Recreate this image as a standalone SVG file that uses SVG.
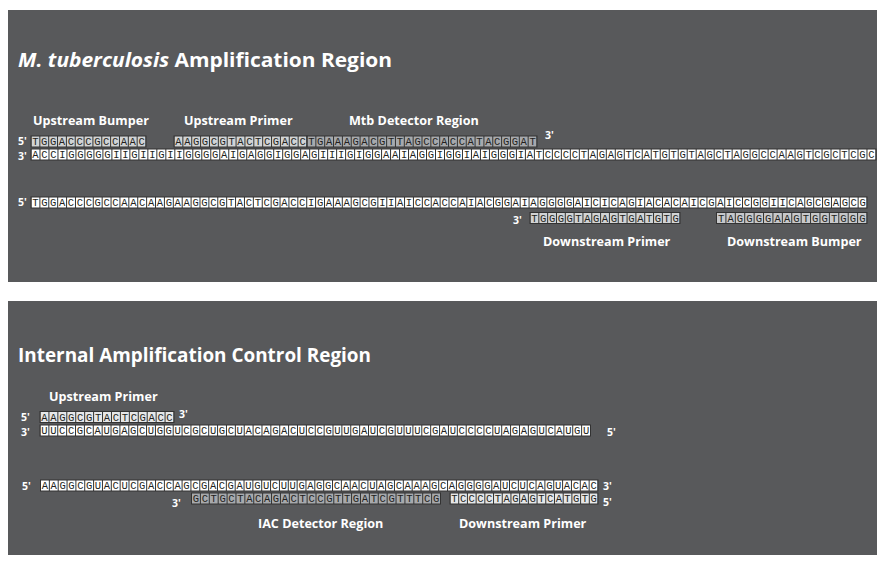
<svg xmlns="http://www.w3.org/2000/svg" width="885" height="567" viewBox="0 0 885 567">
<style>
.panel{fill:#58595b}
.t{font-family:"Open Sans","Liberation Sans",sans-serif;font-weight:700;fill:#ffffff}
.title{font-size:20px}
.lab{font-size:12.6px}
.end{font-size:10.5px}
.cell{stroke:#333333;stroke-width:1}
.dv{stroke:#333333;stroke-dashoffset:0.5;fill:none}
.seq{font-family:"Liberation Mono","DejaVu Sans Mono",monospace;font-size:10.5px;fill:#231f20}
.w{fill:#ffffff}
.lg{fill:#d1d3d4}
.lg2{fill:#c7c8ca}
.vl{fill:#e6e7e8}
.dk{fill:#a7a9ac}
</style>
<rect width="885" height="567" fill="#ffffff"/>

<g id="mtb-panel">
<rect class="panel" x="8" y="10" width="869" height="272"/>
<text class="t title" x="18" y="67" textLength="374" lengthAdjust="spacingAndGlyphs"><tspan font-style="italic">M. tuberculosis</tspan> Amplification Region</text>
<text class="t lab" x="33" y="125">Upstream Bumper</text>
<text class="t lab" x="184" y="125">Upstream Primer</text>
<text class="t lab" x="349" y="125">Mtb Detector Region</text>
<text class="t lab" x="543" y="246">Downstream Primer</text>
<text class="t lab" x="727" y="246">Downstream Bumper</text>

<g id="mtb-row1">
<text class="t end" x="18" y="145">5'</text>
<rect class="cell lg" x="31" y="136" width="115" height="11"/>
<line class="dv" x1="31" y1="141.5" x2="146" y2="141.5" stroke-width="11" stroke-dasharray="1 7.846"/>
<text class="seq" x="32.27" y="145" letter-spacing="2.545">TGGACCCGCCAAC</text>
<rect class="cell lg" x="174" y="136" width="133" height="11"/>
<line class="dv" x1="174" y1="141.5" x2="307" y2="141.5" stroke-width="11" stroke-dasharray="1 7.867"/>
<text class="seq" x="175.28" y="145" letter-spacing="2.566">AAGGCGTACTCGACC</text>
<rect class="cell dk" x="307" y="136" width="230" height="11"/>
<line class="dv" x1="307" y1="141.5" x2="537" y2="141.5" stroke-width="11" stroke-dasharray="1 7.846"/>
<text class="seq" x="308.27" y="145" letter-spacing="2.545">TGAAAGACGTTAGCCACCATACGGAT</text>
<text class="t end" x="545" y="139">3'</text>
</g>

<g id="mtb-row2">
<text class="t end" x="18" y="159.5">3'</text>
<rect class="cell w" x="31" y="149" width="845" height="11"/>
<line class="dv" x1="31" y1="154.5" x2="876" y2="154.5" stroke-width="11" stroke-dasharray="1 7.989"/>
<text class="seq" x="32.34" y="158" letter-spacing="2.688">ACCIGGGGGIIGIIGIIGGGGAIGAGGIGGAGIIIGIGGAAIAGGIGGIAIGGGIATCCCCTAGAGTCATGTGTAGCTAGGCCAAGTCGCTCGC</text>
</g>

<g id="mtb-row3">
<text class="t end" x="18" y="206">5'</text>
<rect class="cell w" x="31" y="197" width="836" height="11"/>
<line class="dv" x1="31" y1="202.5" x2="867" y2="202.5" stroke-width="11" stroke-dasharray="1 7.894"/>
<text class="seq" x="32.30" y="206" letter-spacing="2.593">TGGACCCGCCAACAAGAAGGCGTACTCGACCIGAAAGCGIIAICCACCAIACGGAIAGGGGAICICAGIACACAICGAICCGGIICAGCGAGCG</text>
</g>

<g id="mtb-row4">
<text class="t end" x="513" y="224">3'</text>
<rect class="cell lg" x="530" y="212.5" width="150" height="11"/>
<line class="dv" x1="530" y1="218" x2="680" y2="218" stroke-width="11" stroke-dasharray="1 7.824"/>
<text class="seq" x="531.26" y="221.5" letter-spacing="2.523">TGGGGTAGAGTGATGTG</text>
<rect class="cell lg2" x="716.5" y="212.5" width="150.5" height="11"/>
<line class="dv" x1="716.5" y1="218" x2="867" y2="218" stroke-width="11" stroke-dasharray="1 8.406"/>
<text class="seq" x="718.05" y="221.5" letter-spacing="3.105">TAGGGGAAGTGGTGGG</text>
</g>
</g>

<g id="iac-panel">
<rect class="panel" x="8" y="301" width="869" height="254"/>
<text class="t title" x="18" y="362" textLength="353" lengthAdjust="spacingAndGlyphs">Internal Amplification Control Region</text>
<text class="t lab" x="49" y="401">Upstream Primer</text>
<text class="t lab" x="258" y="528">IAC Detector Region</text>
<text class="t lab" x="459" y="528">Downstream Primer</text>

<g id="iac-row1">
<text class="t end" x="21" y="421">5'</text>
<rect class="cell vl" x="40" y="411.5" width="134" height="11"/>
<line class="dv" x1="40" y1="417" x2="174" y2="417" stroke-width="11" stroke-dasharray="1 7.933"/>
<text class="seq" x="41.32" y="420.5" letter-spacing="2.632">AAGGCGTACTCGACC</text>
<text class="t end" x="179" y="418">3'</text>
</g>

<g id="iac-row2">
<text class="t end" x="21" y="435.5">3'</text>
<rect class="cell w" x="40" y="425" width="550.5" height="11"/>
<line class="dv" x1="40" y1="430.5" x2="590.5" y2="430.5" stroke-width="11" stroke-dasharray="1 7.879"/>
<text class="seq" x="41.29" y="434" letter-spacing="2.578">UUCCGCAUGAGCUGGUCGCUGCUACAGACUCCGUUGAUCGUUUCGAUCCCCUAGAGUCAUGU</text>
<text class="t end" x="607" y="436">5'</text>
</g>

<g id="iac-row3">
<text class="t end" x="22" y="490">5'</text>
<rect class="cell w" x="40.5" y="480" width="557.5" height="11"/>
<line class="dv" x1="40.5" y1="485.5" x2="598" y2="485.5" stroke-width="11" stroke-dasharray="1 7.849"/>
<text class="seq" x="41.77" y="489" letter-spacing="2.548">AAGGCGUACUCGACCAGCGACGAUGUCUUGAGGCAACUAGCAAAGCAGGGGAUCUCAGUACAC</text>
<text class="t end" x="603" y="490">3'</text>
</g>

<g id="iac-row4">
<text class="t end" x="172" y="507">3'</text>
<rect class="cell dk" x="191.5" y="493" width="249" height="11"/>
<line class="dv" x1="191.5" y1="498.5" x2="440.5" y2="498.5" stroke-width="11" stroke-dasharray="1 7.893"/>
<text class="seq" x="192.80" y="502" letter-spacing="2.592">GCTGCTACAGACTCCGTTGATCGTTTCG</text>
<rect class="cell vl" x="450" y="493" width="148" height="11"/>
<line class="dv" x1="450" y1="498.5" x2="598" y2="498.5" stroke-width="11" stroke-dasharray="1 7.706"/>
<text class="seq" x="451.20" y="502" letter-spacing="2.405">TCCCCTAGAGTCATGTG</text>
<text class="t end" x="603" y="506">5'</text>
</g>
</g>
</svg>
